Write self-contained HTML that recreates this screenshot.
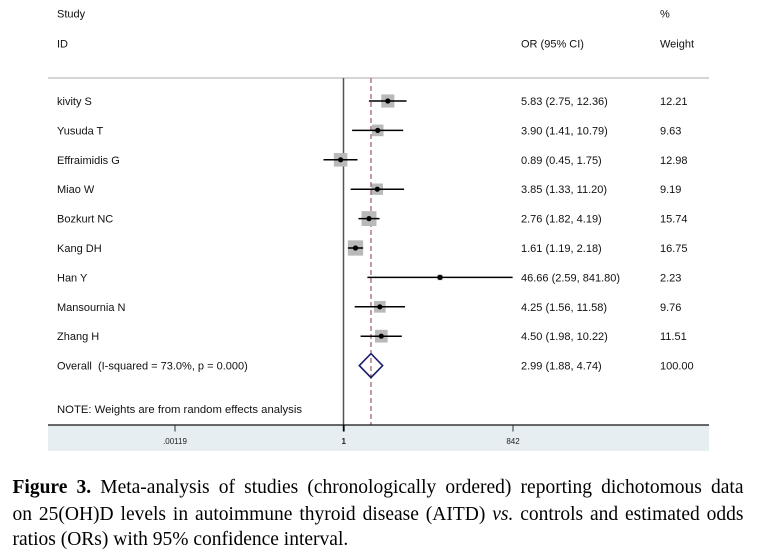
<!DOCTYPE html>
<html>
<head>
<meta charset="utf-8">
<style>
  html, body { margin:0; padding:0; background:#fff; }
  body { width:759px; height:555px; position:relative; overflow:hidden; }
  svg { position:absolute; left:0; top:0; }
  .cap { position:absolute; left:12.5px; width:731px; font-family:"Liberation Serif", serif; font-size:19.5px; line-height:20px; color:#000; white-space:nowrap; }
  .j { text-align:justify; text-align-last:justify; white-space:normal; }
</style>
</head>
<body>
<svg width="759" height="470" viewBox="0 0 759 470" xmlns="http://www.w3.org/2000/svg">
  <g font-family="Liberation Sans, Arial, sans-serif" font-size="11" fill="#111">
    <!-- header -->
    <text x="57" y="17.5">Study</text>
    <text x="57" y="47.5">ID</text>
    <text x="521" y="47.5">OR (95% CI)</text>
    <text x="660" y="17.5">%</text>
    <text x="660" y="47.5">Weight</text>
  </g>
  <!-- header separator -->
  <line x1="48" y1="78" x2="709" y2="78" stroke="#bcbcbc" stroke-width="1.2"/>

  <!-- bottom band -->
  <rect x="48" y="425" width="661" height="26" fill="#e6eef1"/>

  <!-- null line -->
  <line x1="343.5" y1="78" x2="343.5" y2="425" stroke="#555" stroke-width="1.5"/>
  <!-- overall dashed line -->
  <line x1="371" y1="78" x2="371" y2="425" stroke="#8b3a4a" stroke-width="1" stroke-dasharray="5,3"/>

  <!-- squares -->
  <g fill="#b9b9b9">
    <rect x="381.25" y="94.45" width="13.1" height="13.1"/>
    <rect x="371.9" y="124.6" width="11.6" height="11.6"/>
    <rect x="333.85" y="153.05" width="13.5" height="13.5"/>
    <rect x="371.6" y="183.5" width="11.4" height="11.4"/>
    <rect x="361.55" y="211.15" width="14.9" height="14.9"/>
    <rect x="347.85" y="240.35" width="15.3" height="15.3"/>
    <rect x="437.2" y="274.6" width="5.6" height="5.6"/>
    <rect x="373.95" y="300.95" width="11.7" height="11.7"/>
    <rect x="374.95" y="329.85" width="12.7" height="12.7"/>
  </g>
  <!-- CIs -->
  <g stroke="#000" stroke-width="1.5">
    <line x1="368.9" y1="101" x2="406.6" y2="101"/>
    <line x1="352.1" y1="130.4" x2="403.2" y2="130.4"/>
    <line x1="323.5" y1="159.8" x2="357.5" y2="159.8"/>
    <line x1="350.7" y1="189.2" x2="404.1" y2="189.2"/>
    <line x1="358.5" y1="218.6" x2="379.5" y2="218.6"/>
    <line x1="347.9" y1="248" x2="363.1" y2="248"/>
    <line x1="367.4" y1="277.4" x2="512.6" y2="277.4"/>
    <line x1="354.7" y1="306.8" x2="405.0" y2="306.8"/>
    <line x1="360.6" y1="336.2" x2="401.8" y2="336.2"/>
  </g>
  <!-- points -->
  <g fill="#000">
    <circle cx="387.8" cy="101" r="2.6"/>
    <circle cx="377.7" cy="130.4" r="2.6"/>
    <circle cx="340.6" cy="159.8" r="2.6"/>
    <circle cx="377.3" cy="189.2" r="2.6"/>
    <circle cx="369.0" cy="218.6" r="2.6"/>
    <circle cx="355.5" cy="248" r="2.6"/>
    <circle cx="440.0" cy="277.4" r="2.6"/>
    <circle cx="379.8" cy="306.8" r="2.6"/>
    <circle cx="381.3" cy="336.2" r="2.6"/>
  </g>
  <!-- overall diamond -->
  <polygon points="359.3,365.6 371,353.6 382.6,365.6 371,377.6" fill="none" stroke="#1a1a6e" stroke-width="1.6"/>

  <!-- study rows text -->
  <g font-family="Liberation Sans, Arial, sans-serif" font-size="11" fill="#111">
    <text x="57" y="105">kivity S</text>
    <text x="57" y="134.4">Yusuda T</text>
    <text x="57" y="163.8">Effraimidis G</text>
    <text x="57" y="193.2">Miao W</text>
    <text x="57" y="222.6">Bozkurt NC</text>
    <text x="57" y="252">Kang DH</text>
    <text x="57" y="281.4">Han Y</text>
    <text x="57" y="310.8">Mansournia N</text>
    <text x="57" y="340.2">Zhang H</text>
    <text x="57" y="369.6" xml:space="preserve">Overall  (I-squared = 73.0%, p = 0.000)</text>
    <text x="57" y="413" textLength="245" lengthAdjust="spacingAndGlyphs">NOTE: Weights are from random effects analysis</text>

    <text x="521" y="105">5.83 (2.75, 12.36)</text>
    <text x="521" y="134.4">3.90 (1.41, 10.79)</text>
    <text x="521" y="163.8">0.89 (0.45, 1.75)</text>
    <text x="521" y="193.2">3.85 (1.33, 11.20)</text>
    <text x="521" y="222.6">2.76 (1.82, 4.19)</text>
    <text x="521" y="252">1.61 (1.19, 2.18)</text>
    <text x="521" y="281.4">46.66 (2.59, 841.80)</text>
    <text x="521" y="310.8">4.25 (1.56, 11.58)</text>
    <text x="521" y="340.2">4.50 (1.98, 10.22)</text>
    <text x="521" y="369.6">2.99 (1.88, 4.74)</text>

    <text x="660" y="105">12.21</text>
    <text x="660" y="134.4">9.63</text>
    <text x="660" y="163.8">12.98</text>
    <text x="660" y="193.2">9.19</text>
    <text x="660" y="222.6">15.74</text>
    <text x="660" y="252">16.75</text>
    <text x="660" y="281.4">2.23</text>
    <text x="660" y="310.8">9.76</text>
    <text x="660" y="340.2">11.51</text>
    <text x="660" y="369.6">100.00</text>
  </g>

  <!-- axis -->
  <line x1="48" y1="425" x2="709" y2="425" stroke="#111" stroke-width="1.3"/>
  <line x1="175" y1="425" x2="175" y2="431.5" stroke="#333" stroke-width="1"/>
  <line x1="343.7" y1="425" x2="343.7" y2="431.5" stroke="#000" stroke-width="1.8"/>
  <line x1="513" y1="425" x2="513" y2="431.5" stroke="#333" stroke-width="1"/>
  <g font-family="Liberation Sans, Arial, sans-serif" font-size="8" fill="#222" text-anchor="middle">
    <text x="175" y="444">.00119</text>
    <text x="343.7" y="444" font-weight="bold">1</text>
    <text x="513" y="444">842</text>
  </g>
</svg>

<div class="cap j" style="top:478px;"><b>Figure 3.</b> Meta-analysis of studies (chronologically ordered) reporting dichotomous data</div>
<div class="cap j" style="top:505px;">on 25(OH)D levels in autoimmune thyroid disease (AITD) <i>vs.</i> controls and estimated odds</div>
<div class="cap" style="top:530px;">ratios (ORs) with 95% confidence interval.</div>
</body>
</html>
